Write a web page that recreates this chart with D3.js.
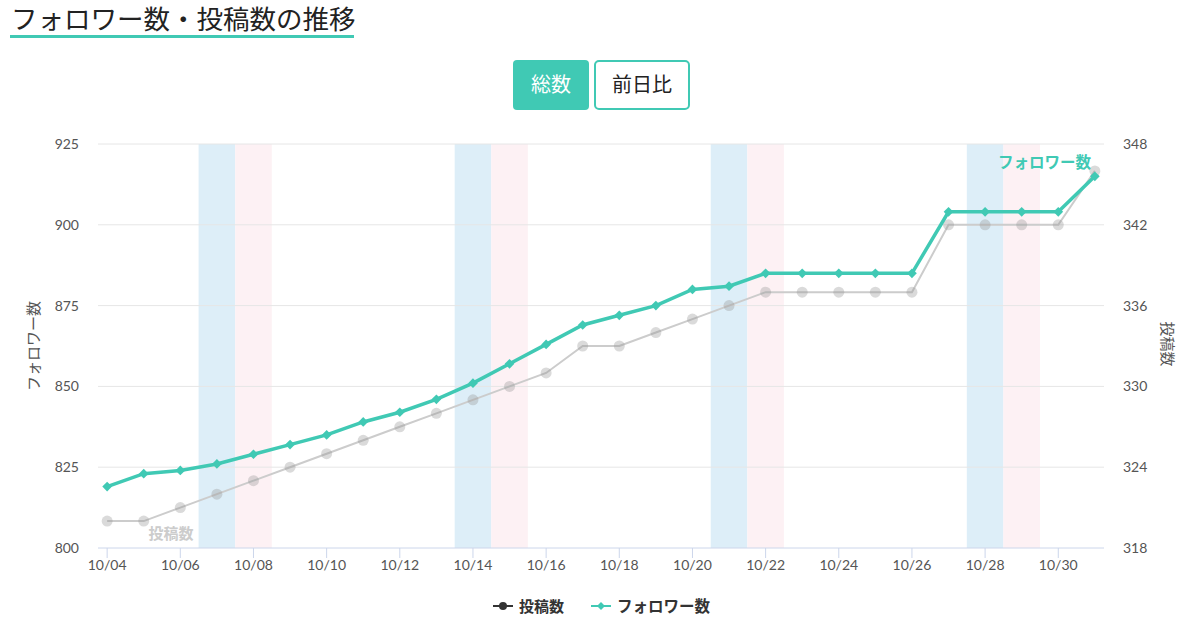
<!DOCTYPE html>
<html><head><meta charset="utf-8">
<script src="https://cdn.jsdelivr.net/npm/d3@7/dist/d3.min.js"></script>
<style>
body{margin:0;background:#fff;font-family:Lato,"Noto Sans CJK JP",sans-serif;}
svg text{font-family:Lato,"Noto Sans CJK JP",sans-serif;}
</style></head>
<body><svg id="c" width="1200" height="626"></svg>
<script>
const dates = ["10/04","10/05","10/06","10/07","10/08","10/09","10/10","10/11","10/12","10/13","10/14","10/15","10/16","10/17","10/18","10/19","10/20","10/21","10/22","10/23","10/24","10/25","10/26","10/27","10/28","10/29","10/30","10/31"];
const followers = [819,823,824,826,829,832,835,839,842,846,851,857,863,869,872,875,880,881,885,885,885,885,885,904,904,904,904,915];
const posts = [320,320,321,322,323,324,325,326,327,328,329,330,331,333,333,334,335,336,337,337,337,337,337,342,342,342,342,346];
const saturdays = ["10/07","10/14","10/21","10/28"];
const sundays = ["10/08","10/15","10/22","10/29"];
const leftTicks = [800,825,850,875,900,925];
const rightTicks = [318,324,330,336,342,348];

const svg = d3.select("#c");
const teal = "#40c9b4";
const L = 98, R = 1104, T = 144, B = 548;
const x = d3.scaleLinear().domain([-0.25, dates.length - 0.75]).range([L, R]);
const yL = d3.scaleLinear().domain([800, 925]).range([B, T]);
const yR = d3.scaleLinear().domain([318, 348]).range([B, T]);

// Title
svg.append("text").attr("x", 11).attr("y", 29).attr("font-size", 26.5).attr("fill", "#222")
  .attr("font-family", "'Noto Sans CJK JP',sans-serif")
  .text("フォロワー数・投稿数の推移");
svg.append("rect").attr("x", 10).attr("y", 35).attr("width", 344).attr("height", 3).attr("fill", teal);

// Buttons
svg.append("rect").attr("x", 513).attr("y", 60).attr("width", 76).attr("height", 50).attr("rx", 4).attr("fill", teal);
svg.append("text").attr("x", 551).attr("y", 92).attr("text-anchor", "middle").attr("font-size", 20).attr("fill", "#fff").text("総数");
svg.append("rect").attr("x", 595).attr("y", 61).attr("width", 94).attr("height", 48).attr("rx", 4).attr("fill", "#fff").attr("stroke", teal).attr("stroke-width", 2);
svg.append("text").attr("x", 642).attr("y", 92).attr("text-anchor", "middle").attr("font-size", 20).attr("fill", "#222").text("前日比");

// Weekend bands
const idx = d => dates.indexOf(d);
svg.append("g").selectAll("rect").data(saturdays).join("rect")
  .attr("x", d => x(idx(d) - 0.5)).attr("width", d => x(idx(d) + 0.5) - x(idx(d) - 0.5))
  .attr("y", T).attr("height", B - T).attr("fill", "#ddeef8");
svg.append("g").selectAll("rect").data(sundays).join("rect")
  .attr("x", d => x(idx(d) - 0.5)).attr("width", d => x(idx(d) + 0.5) - x(idx(d) - 0.5))
  .attr("y", T).attr("height", B - T).attr("fill", "#fdf1f4");

// Gridlines
svg.append("g").selectAll("line").data(leftTicks.slice(1)).join("line")
  .attr("x1", L).attr("x2", R).attr("y1", d => yL(d)).attr("y2", d => yL(d))
  .attr("stroke", "#e6e6e6").attr("stroke-width", 1);

// Left axis labels
svg.append("g").selectAll("text").data(leftTicks).join("text")
  .attr("x", 79).attr("y", d => yL(d) + 5).attr("text-anchor", "end")
  .attr("font-size", 14).attr("fill", "#555").text(d => d);
// Right axis labels
svg.append("g").selectAll("text").data(rightTicks).join("text")
  .attr("x", 1123).attr("y", d => yR(d) + 5).attr("text-anchor", "start")
  .attr("font-size", 14).attr("fill", "#555").text(d => d);

// Axis titles
svg.append("text").attr("transform", "translate(39,346) rotate(-90)").attr("text-anchor", "middle")
  .attr("font-size", 15).attr("fill", "#555").text("フォロワー数");
svg.append("text").attr("transform", "translate(1162,344) rotate(90)").attr("text-anchor", "middle")
  .attr("font-size", 15).attr("fill", "#555").text("投稿数");

// X axis
const xAxisG = svg.append("g").attr("transform", `translate(0,${B})`);
xAxisG.append("line").attr("x1", L).attr("x2", R).attr("stroke", "#ccd6eb");
const tickIdx = d3.range(0, dates.length, 2);
xAxisG.selectAll("line.t").data(tickIdx).join("line").attr("class", "t")
  .attr("x1", d => x(d)).attr("x2", d => x(d)).attr("y1", 0).attr("y2", 10).attr("stroke", "#ccd6eb");
xAxisG.selectAll("text").data(tickIdx).join("text")
  .attr("x", d => x(d)).attr("y", 22).attr("text-anchor", "middle")
  .attr("font-size", 14).attr("fill", "#555").text(d => dates[d]);

// Posts series
svg.append("path").datum(posts)
  .attr("d", d3.line().x((d, i) => x(i)).y(d => yR(d)))
  .attr("fill", "none").attr("stroke", "#cccccc").attr("stroke-width", 2);
svg.append("g").selectAll("circle").data(posts).join("circle")
  .attr("cx", (d, i) => x(i)).attr("cy", d => yR(d)).attr("r", 5.5)
  .attr("fill", "rgba(150,150,150,0.35)");
svg.append("text").attr("x", 171).attr("y", 539).attr("text-anchor", "middle")
  .attr("font-size", 15).attr("font-weight", "bold").attr("fill", "#cccccc").text("投稿数");

// Followers series
svg.append("path").datum(followers)
  .attr("d", d3.line().x((d, i) => x(i)).y(d => yL(d)))
  .attr("fill", "none").attr("stroke", teal).attr("stroke-width", 3.5);
const diamond = d3.symbol().type(d3.symbolDiamond2).size(60);
svg.append("g").selectAll("path").data(followers).join("path")
  .attr("transform", (d, i) => `translate(${x(i)},${yL(d)})`)
  .attr("d", diamond).attr("fill", teal);
svg.append("text").attr("x", 1091).attr("y", 168).attr("text-anchor", "end")
  .attr("font-size", 15.5).attr("font-weight", "bold").attr("fill", teal).text("フォロワー数");

// Legend
const lg = svg.append("g").attr("transform", "translate(0,606)");
lg.append("line").attr("x1", 493).attr("x2", 513).attr("y1", 0).attr("y2", 0).attr("stroke", "#333").attr("stroke-width", 2);
lg.append("circle").attr("cx", 503).attr("cy", 0).attr("r", 4).attr("fill", "#333");
lg.append("text").attr("x", 519).attr("y", 5.5).attr("font-size", 15).attr("font-weight", "bold").attr("fill", "#333").text("投稿数");
lg.append("line").attr("x1", 591).attr("x2", 611).attr("y1", 0).attr("y2", 0).attr("stroke", teal).attr("stroke-width", 2);
lg.append("path").attr("transform", "translate(601,0)").attr("d", d3.symbol().type(d3.symbolDiamond2).size(40)).attr("fill", teal);
lg.append("text").attr("x", 617).attr("y", 5.5).attr("font-size", 15.5).attr("font-weight", "bold").attr("fill", "#333").text("フォロワー数");
</script></body></html>
